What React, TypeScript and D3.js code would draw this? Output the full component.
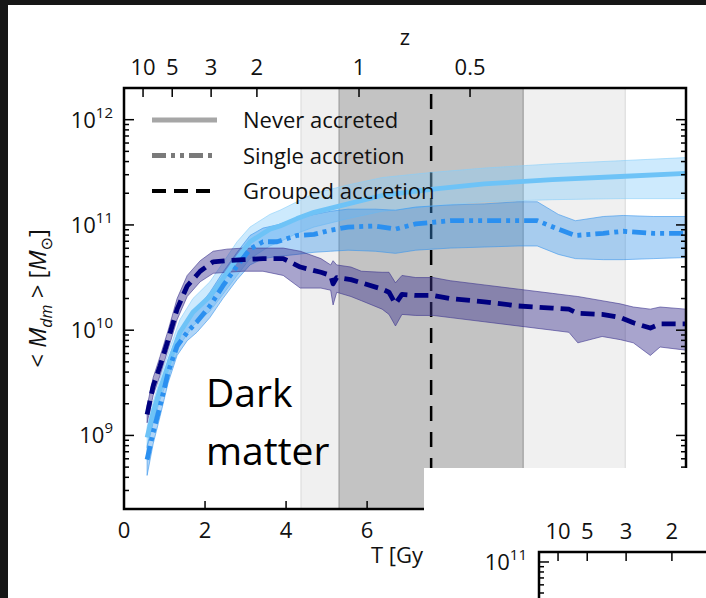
import React, { useEffect, useRef } from "react";
import * as d3 from "d3";

// values; masses are log10(M / Msun)
const tGrouped = [0.57, 0.72, 0.89, 1.09, 1.31, 1.56, 1.88, 2.2, 2.54, 2.94, 3.43, 3.93, 4.35, 4.86, 5.1, 5.16, 5.25, 5.6, 5.86, 6.37, 6.54, 6.7, 6.86, 7.2, 7.63, 8.05, 8.89, 9.73, 10.57, 10.98, 11.2, 11.8, 12.25, 12.57, 12.99, 13.23, 13.87];
const groupedMid = [9.2, 9.47, 9.66, 9.91, 10.2, 10.42, 10.56, 10.65, 10.66, 10.67, 10.68, 10.68, 10.6, 10.55, 10.52, 10.44, 10.5, 10.48, 10.45, 10.39, 10.36, 10.25, 10.34, 10.33, 10.33, 10.3, 10.27, 10.23, 10.21, 10.2, 10.16, 10.15, 10.12, 10.07, 10.02, 10.06, 10.06];
const groupedLo = [9.12, 9.38, 9.57, 9.82, 10.1, 10.32, 10.46, 10.54, 10.55, 10.56, 10.56, 10.52, 10.4, 10.4, 10.38, 10.24, 10.36, 10.32, 10.28, 10.2, 10.15, 10.04, 10.15, 10.14, 10.14, 10.12, 10.08, 10.04, 10.0, 9.98, 9.88, 9.94, 9.91, 9.88, 9.76, 9.84, 9.81];
const groupedHi = [9.28, 9.55, 9.75, 10.0, 10.3, 10.52, 10.66, 10.75, 10.77, 10.78, 10.78, 10.78, 10.75, 10.68, 10.62, 10.66, 10.62, 10.6, 10.56, 10.55, 10.55, 10.45, 10.52, 10.5, 10.5, 10.47, 10.43, 10.39, 10.35, 10.33, 10.32, 10.28, 10.25, 10.22, 10.2, 10.22, 10.2];

const tSingle = [0.57, 0.72, 0.89, 1.09, 1.31, 1.56, 1.8, 2.12, 2.44, 2.79, 3.11, 3.43, 3.78, 4.27, 4.69, 5.1, 5.53, 6.2, 6.7, 7.2, 8.05, 8.89, 9.73, 10.2, 10.72, 11.14, 11.83, 12.32, 13.06, 13.87];
const singleMid = [8.77, 9.03, 9.28, 9.6, 9.85, 9.98, 10.08, 10.23, 10.42, 10.61, 10.77, 10.84, 10.84, 10.9, 10.91, 10.95, 10.98, 10.99, 10.96, 11.01, 11.04, 11.04, 11.04, 11.04, 10.96, 10.9, 10.92, 10.94, 10.92, 10.92];
const singleLo = [8.62, 8.92, 9.18, 9.5, 9.76, 9.9, 9.98, 10.12, 10.3, 10.48, 10.62, 10.68, 10.7, 10.72, 10.74, 10.75, 10.76, 10.75, 10.73, 10.76, 10.78, 10.79, 10.8, 10.8, 10.72, 10.68, 10.67, 10.67, 10.68, 10.69];
const singleHi = [8.9, 9.14, 9.4, 9.72, 9.95, 10.08, 10.2, 10.36, 10.55, 10.74, 10.9, 10.97, 11.0, 11.06, 11.1, 11.13, 11.15, 11.15, 11.14, 11.17, 11.19, 11.2, 11.22, 11.22, 11.1, 11.04, 11.08, 11.09, 11.08, 11.08];

const tNever = [0.57, 0.72, 0.89, 1.14, 1.38, 1.7, 2.12, 2.44, 2.79, 3.11, 3.6, 3.85, 4.27, 4.69, 5.53, 6.37, 7.63, 8.89, 10.57, 12.25, 13.87];
const neverMid = [8.98, 9.22, 9.44, 9.72, 9.98, 10.17, 10.32, 10.49, 10.68, 10.84, 10.96, 10.99, 11.06, 11.12, 11.2, 11.28, 11.34, 11.39, 11.43, 11.46, 11.49];
const neverLo = [8.88, 9.12, 9.34, 9.6, 9.86, 10.04, 10.18, 10.34, 10.52, 10.68, 10.8, 10.84, 10.92, 10.98, 11.06, 11.13, 11.18, 11.22, 11.24, 11.25, 11.25];
const neverHi = [9.08, 9.32, 9.54, 9.84, 10.1, 10.3, 10.46, 10.64, 10.84, 10.98, 11.1, 11.14, 11.22, 11.3, 11.38, 11.45, 11.5, 11.54, 11.58, 11.61, 11.64];

const xTicks = [0, 2, 4, 6, 8, 10, 12];
const zLabels = ["10", "5", "3", "2", "1", "0.5"];
const zTimes = [0.47, 1.19, 2.15, 3.28, 5.8, 8.54];
const yDecades = [9, 10, 11, 12];
const lightBand = [4.37, 12.37];
const darkBand = [5.31, 9.85];
const tMarker = 7.58;
const legendNames = ["Never accreted", "Single accretion", "Grouped accretion"];

// second (clipped) panel peeking in at the bottom right
const z2Labels = ["10", "5", "3", "2"];
const z2Times = [0.47, 1.19, 2.15, 3.28];

const FONT = "'Open Sans', 'DejaVu Sans', sans-serif";

function App() {
  const ref = useRef<SVGSVGElement>(null);

  useEffect(() => {
    const svg = d3.select(ref.current);
    svg.selectAll("*").remove();

    const W = 706, H = 598;
    const left = 124, right = 686, top = 88, bottom = 509;
    const coverX = 424, coverY = 468;

    const x = d3.scaleLinear().domain([0, 13.87]).range([left, right]);
    const y = d3.scaleLog().domain([2e8, 2e12]).range([bottom, top]);

    svg.append("defs").append("clipPath").attr("id", "uncovered")
      .append("rect").attr("x", 0).attr("y", 0).attr("width", coverX).attr("height", H);

    svg.append("rect").attr("width", W).attr("height", H).attr("fill", "#161616");
    svg.append("rect").attr("x", 8).attr("y", 5).attr("width", W - 8).attr("height", H - 5).attr("fill", "#fff");

    // shaded epochs
    svg.append("rect")
      .attr("x", x(lightBand[0])).attr("y", top)
      .attr("width", x(lightBand[1]) - x(lightBand[0])).attr("height", bottom - top)
      .attr("fill", "#f0f0f0").attr("stroke", "#e2e2e2").attr("stroke-width", 1.5);
    svg.append("rect")
      .attr("x", x(darkBand[0])).attr("y", top)
      .attr("width", x(darkBand[1]) - x(darkBand[0])).attr("height", bottom - top)
      .attr("fill", "#c3c3c3").attr("stroke", "#a8a8a8").attr("stroke-width", 1.5);

    svg.append("line")
      .attr("x1", x(tMarker)).attr("x2", x(tMarker)).attr("y1", top + 6).attr("y2", bottom)
      .attr("stroke", "#000").attr("stroke-width", 2.5).attr("stroke-dasharray", "15 11");

    const series = [
      { t: tNever, mid: neverMid, lo: neverLo, hi: neverHi, fill: "#87cefa", fo: 0.42, line: "#6ec3f7", dash: null },
      { t: tSingle, mid: singleMid, lo: singleLo, hi: singleHi, fill: "#3a96ec", fo: 0.4, line: "#2b90f0", dash: "14 5 4 5 4 5" },
      { t: tGrouped, mid: groupedMid, lo: groupedLo, hi: groupedHi, fill: "#3d3590", fo: 0.45, line: "#00007f", dash: "14 7" },
    ];

    series.forEach(s => {
      const area = d3.area<number>()
        .x((d, i) => x(s.t[i]))
        .y0((d, i) => y(Math.pow(10, s.lo[i])))
        .y1((d, i) => y(Math.pow(10, s.hi[i])));
      svg.append("path").attr("d", area(s.mid))
        .attr("fill", s.fill).attr("fill-opacity", s.fo)
        .attr("stroke", s.fill).attr("stroke-opacity", 0.6).attr("stroke-width", 1);
    });

    series.forEach(s => {
      const line = d3.line<number>()
        .x((d, i) => x(s.t[i]))
        .y(d => y(Math.pow(10, d)));
      const p = svg.append("path").attr("d", line(s.mid))
        .attr("fill", "none").attr("stroke", s.line).attr("stroke-width", 4.8)
        .attr("stroke-linejoin", "round");
      if (s.dash) p.attr("stroke-dasharray", s.dash);
    });

    // legend
    const legendStyle = [
      { c: "#a6a6a6", dash: null, w: 5 },
      { c: "#7a7a7a", dash: "14 5 4 5 4 5", w: 5 },
      { c: "#000", dash: "14 8", w: 4 },
    ];
    legendNames.forEach((name, i) => {
      const ly = 120 + i * 35.5;
      const l = svg.append("line").attr("x1", 152).attr("x2", 217).attr("y1", ly).attr("y2", ly)
        .attr("stroke", legendStyle[i].c).attr("stroke-width", legendStyle[i].w);
      if (legendStyle[i].dash) l.attr("stroke-dasharray", legendStyle[i].dash);
      svg.append("text").attr("x", 243).attr("y", ly + 8).text(name)
        .attr("font-family", FONT).attr("font-size", 22).attr("fill", "#111");
    });

    // ticks
    const tk = svg.append("g").attr("stroke", "#000").attr("stroke-width", 1.5);
    xTicks.forEach(v => {
      tk.append("line").attr("x1", x(v)).attr("x2", x(v)).attr("y1", bottom).attr("y2", bottom - 8);
    });
    zTimes.forEach(v => {
      tk.append("line").attr("x1", x(v)).attr("x2", x(v)).attr("y1", top).attr("y2", top + 9);
    });
    const yMinor: number[] = [];
    for (let e = 8; e <= 12; e++) for (let m = 2; m <= 9; m++) {
      const v = m * Math.pow(10, e);
      if (v >= 2e8 && v <= 2e12) yMinor.push(v);
    }
    yMinor.forEach(v => {
      tk.append("line").attr("x1", left).attr("x2", left + 5).attr("y1", y(v)).attr("y2", y(v));
      tk.append("line").attr("x1", right).attr("x2", right - 5).attr("y1", y(v)).attr("y2", y(v));
    });
    yDecades.forEach(e => {
      const v = Math.pow(10, e);
      tk.append("line").attr("x1", left).attr("x2", left + 10).attr("y1", y(v)).attr("y2", y(v));
      tk.append("line").attr("x1", right).attr("x2", right - 10).attr("y1", y(v)).attr("y2", y(v));
    });

    svg.append("rect").attr("x", left).attr("y", top).attr("width", right - left).attr("height", bottom - top)
      .attr("fill", "none").attr("stroke", "#000").attr("stroke-width", 2.5);

    const txt = (tx: number, ty: number, s: string, anchor = "middle", size = 22) =>
      svg.append("text").attr("x", tx).attr("y", ty).attr("text-anchor", anchor)
        .attr("font-family", FONT).attr("font-size", size).attr("fill", "#111").text(s);

    // tick labels under the white cover are not visible, so only draw the rest
    xTicks.filter(v => x(v) + 10 < coverX).forEach(v => txt(x(v), 538, String(v)));
    zTimes.forEach((v, i) => txt(x(v), 75, zLabels[i]));
    txt((left + right) / 2, 45, "z");
    txt((left + right) / 2, 563, "T [Gyr]").attr("clip-path", "url(#uncovered)");

    yDecades.forEach(e => {
      const t = svg.append("text").attr("x", 113).attr("y", y(Math.pow(10, e)) + 8).attr("text-anchor", "end")
        .attr("font-family", FONT).attr("font-size", 22).attr("fill", "#111");
      t.append("tspan").text("10");
      t.append("tspan").attr("dy", -10).attr("font-size", 15).text(String(e));
    });

    // y axis title
    const yt = svg.append("text").attr("transform", `translate(46,${(top + bottom) / 2}) rotate(-90)`)
      .attr("text-anchor", "middle").attr("font-family", FONT).attr("font-size", 24).attr("fill", "#111");
    yt.append("tspan").text("< ");
    yt.append("tspan").attr("font-style", "italic").text("M");
    yt.append("tspan").attr("font-style", "italic").attr("font-size", 16).attr("dy", 6).text("dm");
    yt.append("tspan").attr("dy", -6).text(" > [");
    yt.append("tspan").attr("font-style", "italic").text("M");
    yt.append("tspan").attr("font-size", 16).attr("dy", 6).text("\u2299");
    yt.append("tspan").attr("dy", -6).text("]");

    // "Dark matter" annotation
    const dm = svg.append("g").attr("font-family", FONT).attr("font-size", 39).attr("fill", "#000");
    dm.append("text").attr("x", 206).attr("y", 407).text("Dark");
    dm.append("text").attr("x", 206).attr("y", 465).text("matter");

    // white overlay with the next panel
    svg.append("rect").attr("x", coverX).attr("y", coverY).attr("width", W - coverX).attr("height", H - coverY).attr("fill", "#fff");
    const x2 = d3.scaleLinear().domain([0, 13.87]).range([539, 1101]);
    const y2 = d3.scaleLog().domain([1e10, 1.25e11]).range([665, 552]);
    const g2 = svg.append("g").attr("stroke", "#000").attr("stroke-width", 1.5);
    z2Times.forEach(v => g2.append("line").attr("x1", x2(v)).attr("x2", x2(v)).attr("y1", 552).attr("y2", 561));
    [1e11, 9e10, 8e10, 7e10, 6e10, 5e10].forEach((v, i) => {
      g2.append("line").attr("x1", 539).attr("x2", 539 + (i === 0 ? 10 : 5)).attr("y1", y2(v)).attr("y2", y2(v));
    });
    svg.append("path").attr("d", `M539,${H}V552H${W}`).attr("fill", "none").attr("stroke", "#000").attr("stroke-width", 2.5);
    z2Times.forEach((v, i) => txt(x2(v), 539, z2Labels[i]));
    const t2 = svg.append("text").attr("x", 527).attr("y", y2(1e11) + 8).attr("text-anchor", "end")
      .attr("font-family", FONT).attr("font-size", 22).attr("fill", "#111");
    t2.append("tspan").text("10");
    t2.append("tspan").attr("dy", -10).attr("font-size", 15).text("11");
  }, []);

  return (
    <div style={{ position: "absolute", left: 0, top: 0 }}>
      <svg ref={ref} width={706} height={598} style={{ display: "block" }}></svg>
    </div>
  );
}

export default App;
